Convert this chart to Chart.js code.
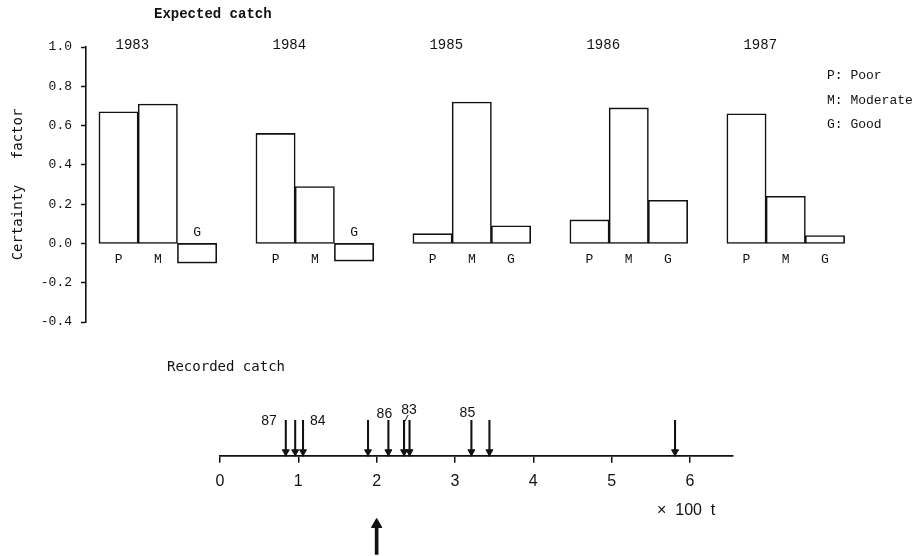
<!DOCTYPE html>
<html>
<head>
<meta charset="utf-8">
<script src="https://cdn.jsdelivr.net/npm/chart.js@4.4.1/dist/chart.umd.min.js"></script>
<style>
  html, body { margin:0; padding:0; background:#fff; }
  #wrap { position:relative; width:922px; height:556px; overflow:hidden; background:#fff; }
  canvas { position:absolute; left:0; }
  #graficoEsperado { top:0; }
  #graficoRegistrado { top:340px; }
</style>
</head>
<body>
<div id="wrap">
  <canvas id="graficoEsperado" width="922" height="340"></canvas>
  <canvas id="graficoRegistrado" width="922" height="216"></canvas>
</div>
<script>
// ===============================
// DADOS
// ===============================
const years = ["1983", "1984", "1985", "1986", "1987"];
const classes = ["P", "M", "G"];
const poor     = [0.67, 0.56, 0.05, 0.12, 0.66];
const moderate = [0.71, 0.29, 0.72, 0.69, 0.24];
const good     = [-0.10, -0.09, 0.09, 0.22, 0.04];
const legendLines = ["P: Poor", "M: Moderate", "G: Good"];

const recordedCatch = [0.84, 0.96, 1.06, 1.89, 2.15, 2.35, 2.42, 3.21, 3.44, 5.81];
const recordedYear  = ["87", "", "84", "", "86", "83", "", "85", "", ""];
const expectedCatch = [2.0];

const INK = "#111";
const MONO = '"Liberation Mono", monospace';
const MONO_HEAVY = '"DejaVu Sans Mono", monospace';
const SANS = '"Liberation Sans", Arial, sans-serif';


// ===============================
// TEXTOS DO GRAFICO DE CIMA
// ===============================
const textosCima = {
  id: "textosCima",
  afterDatasetsDraw(chart){
    const {ctx, scales:{x, y}} = chart;
    const y0 = y.getPixelForValue(0);
    ctx.save();
    ctx.fillStyle = INK;
    ctx.textAlign = "center";
    ctx.textBaseline = "middle";

    // P / M / G junto da linha zero
    ctx.font = "13px " + MONO;
    chart.data.datasets.forEach((ds, k) => {
      chart.getDatasetMeta(k).data.forEach((bar, g) => {
        const v = ds.data[g].y;
        ctx.fillText(classes[k], bar.x, v >= 0 ? y0 + 16 : y0 - 11);
      });
    });

    // anos
    ctx.font = "14px " + MONO;
    years.forEach((yr, g) => {
      ctx.fillText(yr, x.getPixelForValue(g * 4 + 0.35), y.getPixelForValue(1.0) - 2);
    });

    // legenda
    ctx.textAlign = "left";
    ctx.font = "13px " + MONO;
    legendLines.forEach((t, i) => ctx.fillText(t, 827, 76 + i * 24.5));

    // titulo
    ctx.font = "bold 14px " + MONO;
    ctx.fillText("Expected catch", 154, 14);
    ctx.restore();
  }
};


// ===============================
// GRAFICO DE CIMA
// ===============================
new Chart(document.getElementById("graficoEsperado"), {
  type: "bar",
  data: {
    datasets: [poor, moderate, good].map((vals, k) => ({
      label: classes[k],
      data: vals.map((v, g) => ({ x: g * 4 + k, y: v })),
      backgroundColor: "#fff",
      borderColor: INK,
      borderWidth: 1.6,
      borderSkipped: false,
      barThickness: 39.3,
      grouped: false
    }))
  },
  options: {
    responsive: false,
    animation: false,
    layout: { padding: { left: 0, top: 47, right: 46, bottom: 18 } },
    plugins: { legend: { display: false }, tooltip: { enabled: false } },
    scales: {
      x: { type: "linear", display: false, min: -0.83, max: 19.3, offset: false, grid: { offset: false } },
      y: {
        min: -0.4, max: 1.0,
        afterFit: s => { s.width = 86; },
        ticks: {
          stepSize: 0.2, padding: 9, color: INK,
          font: { family: MONO, size: 13 },
          callback: v => (Math.round(v * 10) / 10).toFixed(1)
        },
        grid: { drawOnChartArea: false, tickLength: 5, color: INK, tickWidth: 1.5 },
        border: { color: INK, width: 1.6 },
        title: {
          display: true, text: "Certainty   factor", color: INK,
          font: { family: MONO_HEAVY, size: 14 },
          padding: { top: 10, bottom: 0 }
        }
      }
    }
  },
  plugins: [textosCima]
});


// ===============================
// TEXTOS DO GRAFICO DE BAIXO
// ===============================
const rotuloAno = {
  "87": { dx: -9, dy: 1, align: "right" },
  "84": { dx: 7, dy: 1, align: "left" },
  "86": { dx: -4, dy: -6, align: "center" },
  "83": { dx: 5, dy: -10, align: "center", guia: true },
  "85": { dx: -4, dy: -7, align: "center" }
};

const textosBaixo = {
  id: "textosBaixo",
  afterDatasetsDraw(chart){
    const {ctx, scales:{x, y}} = chart;
    const topo = y.getPixelForValue(1);
    ctx.save();
    ctx.fillStyle = INK;
    ctx.strokeStyle = INK;
    ctx.textBaseline = "middle";

    ctx.font = "14px " + SANS;
    recordedCatch.forEach((v, i) => {
      const lab = recordedYear[i];
      if(!lab) return;
      const st = rotuloAno[lab];
      const px = x.getPixelForValue(v);
      ctx.textAlign = st.align;
      ctx.fillText(lab, px + st.dx, topo + st.dy);
      if(st.guia){
        ctx.lineWidth = 1;
        ctx.beginPath();
        ctx.moveTo(px + 4, topo - 5);
        ctx.lineTo(px + 1, topo + 1);
        ctx.stroke();
      }
    });

    ctx.textAlign = "left";
    ctx.font = "14px " + MONO_HEAVY;
    ctx.fillText("Recorded catch", 167, 27);

    ctx.font = "16px " + SANS;
    ctx.fillText("\u00d7  100  t", 657, 171);
    ctx.restore();
  }
};


// ===============================
// GRAFICO DE BAIXO
// ===============================
new Chart(document.getElementById("graficoRegistrado"), {
  type: "bar",
  data: {
    datasets: [
      {
        data: recordedCatch.map(v => ({ x: v, y: [0, 1] })),
        backgroundColor: INK, borderWidth: 0, barThickness: 1.4, grouped: false
      },
      {
        type: "scatter",
        data: recordedCatch.map(v => ({ x: v, y: 0.12 })),
        pointStyle: "triangle", rotation: 180, pointRadius: 4,
        backgroundColor: INK, borderColor: INK, borderWidth: 1
      },
      {
        data: expectedCatch.map(v => ({ x: v, y: [-2.72, -1.85] })),
        backgroundColor: INK, borderWidth: 0, barThickness: 3, grouped: false, clip: false
      },
      {
        type: "scatter",
        data: expectedCatch.map(v => ({ x: v, y: -1.89 })),
        pointStyle: "triangle", rotation: 0, pointRadius: 6,
        backgroundColor: INK, borderColor: INK, borderWidth: 1
      }
    ]
  },
  options: {
    responsive: false,
    animation: false,
    layout: { padding: { left: 220, top: 80, right: 189, bottom: 0 } },
    plugins: { legend: { display: false }, tooltip: { enabled: false } },
    scales: {
      x: {
        type: "linear", min: 0, max: 6.55, offset: false,
        position: { y: 0 },
        afterFit: s => { s.height = 0; },
        ticks: { stepSize: 1, includeBounds: false, padding: 10, color: INK, font: { family: SANS, size: 16 } },
        grid: { offset: false, drawOnChartArea: false, tickLength: 6, color: INK, lineWidth: 1.5 },
        border: { color: INK, width: 1.8 }
      },
      y: { display: false, min: -2.57, max: 1 }
    }
  },
  plugins: [textosBaixo]
});
</script>
</body>
</html>
